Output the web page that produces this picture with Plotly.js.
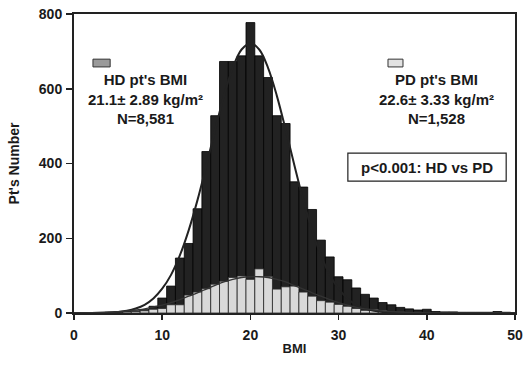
<!DOCTYPE html>
<html>
<head>
<meta charset="utf-8">
<script src="https://cdn.plot.ly/plotly-3.0.1.min.js"></script>
<style>html,body{margin:0;padding:0;background:#fff;}#chart{width:526px;height:367px;}</style>
</head>
<body>
<div id="chart"></div>
<script>
// BMI bins (width 1)
const bmi = [1,2,3,4,5,6,7,8,9,10,11,12,13,14,15,16,17,18,19,20,21,22,23,24,25,26,27,28,29,30,31,32,33,34,35,36,37,38,39,40,41,42,43,44,45,46,47,48,49];
// HD patients per BMI bin
const hdCounts = [0,1,1,2,3,4,6,9,18,40,72,147,186,279,432,528,673,673,688,777,688,630,528,507,351,337,277,195,150,97,89,67,50,40,28,22,15,11,8,10,4,3,3,2,2,2,2,4,2];
// PD patients per BMI bin
const pdCounts = [0,0,0,1,2,3,4,6,10,12,22,22,48,56,65,77,85,95,99,90,118,98,64,70,72,56,45,33,29,23,18,12,7,10,7,4,3,2,1,2,1,0,0,0,0,0,0,1,0];
// fitted curves
const curveX = [0,2,4,5,6,7,8,9,10,11,12,13,14,15,16,17,18,19,20,21,22,23,24,25,26,27,28,29,30,31,32,33,34,35,36,38,40,45,50];
const hdCurve = [0,0.3,1.5,3,6,12,22,39,65,102,154,221,302,394,490,581,656,705,722,705,656,581,490,394,302,221,154,102,65,39,22,12,6,3,1.5,0.3,0,0,0];
const pdCurve = [0.3,0.8,2.2,3.4,5.3,8,11,16,21,28,36,45,54,64,74,83,90,95,97,97,95,90,83,73,64,54,45,36,28,21,15,11,8,5,3.5,1.4,0.5,0,0];

const legendHD = ["HD pt's BMI", "21.1\u00b1 2.89 kg/m\u00b2", "N=8,581"];
const legendPD = ["PD pt's BMI", "22.6\u00b1 3.33 kg/m\u00b2", "N=1,528"];
const pText = "p<0.001: HD vs PD";

const FAM = "Liberation Sans, Arial, sans-serif";
const TXT = "#1a1a1a";

const traces = [
  {type: "bar", x: bmi, y: hdCounts, width: 1,
   marker: {color: "#222", line: {color: "#000", width: 0.8}}, hoverinfo: "none"},
  {type: "bar", x: bmi, y: pdCounts, width: 1,
   marker: {color: "#d9d9d9", line: {color: "#2a2a2a", width: 0.8}}, hoverinfo: "none"},
  {type: "scatter", mode: "lines", x: curveX, y: hdCurve,
   line: {color: "#222", width: 2, shape: "spline"}, hoverinfo: "none"},
  {type: "scatter", mode: "lines", x: curveX, y: pdCurve,
   line: {color: "#333", width: 1.3, shape: "spline"}, hoverinfo: "none"}
];

const layout = {
  width: 526, height: 367,
  margin: {l: 74, r: 11, t: 14, b: 54},
  paper_bgcolor: "#fff", plot_bgcolor: "#fff",
  showlegend: false,
  barmode: "overlay", bargap: 0,
  font: {family: FAM, color: TXT, weight: "bold"},
  xaxis: {range: [0, 50], dtick: 10, tick0: 0, ticks: "outside", ticklen: 5, tickwidth: 1.5,
          tickcolor: "#222", showline: true, mirror: true, linecolor: "#222", linewidth: 2,
          showgrid: false, zeroline: false, ticklabelstandoff: 3,
          tickfont: {family: FAM, size: 14, color: TXT, weight: "bold"},
          title: {text: "BMI", font: {family: FAM, size: 13, color: TXT, weight: "bold"}, standoff: 2}},
  yaxis: {range: [0, 800], dtick: 200, tick0: 0, ticks: "outside", ticklen: 6, tickwidth: 1.5,
          tickcolor: "#222", showline: true, mirror: true, linecolor: "#222", linewidth: 2,
          showgrid: false, zeroline: false, ticklabelstandoff: 1,
          tickfont: {family: FAM, size: 14, color: TXT, weight: "bold"},
          title: {text: "Pt's Number", font: {family: FAM, size: 14, color: TXT, weight: "bold"}, standoff: 16}},
  shapes: [
    {type: "rect", xref: "paper", yref: "paper", x0: 0.043, x1: 0.082, y0: 0.823, y1: 0.849,
     fillcolor: "#9a9a9a", line: {color: "#333", width: 1}},
    {type: "rect", xref: "paper", yref: "paper", x0: 0.712, x1: 0.746, y0: 0.823, y1: 0.849,
     fillcolor: "#e2e2e2", line: {color: "#333", width: 1}},
    {type: "rect", xref: "paper", yref: "paper", x0: 0.621, x1: 0.980, y0: 0.441, y1: 0.535,
     fillcolor: "rgba(0,0,0,0)", line: {color: "#222", width: 1.2}}
  ],
  annotations: [
    {xref: "paper", yref: "paper", x: 0.163, y: 0.716, xanchor: "center", yanchor: "middle",
     text: legendHD.join("<br>"), showarrow: false, align: "center",
     font: {family: FAM, size: 15, color: TXT, weight: "bold"}},
    {xref: "paper", yref: "paper", x: 0.823, y: 0.716, xanchor: "center", yanchor: "middle",
     text: legendPD.join("<br>"), showarrow: false, align: "center",
     font: {family: FAM, size: 15, color: TXT, weight: "bold"}},
    {xref: "paper", yref: "paper", x: 0.800, y: 0.488, xanchor: "center", yanchor: "middle",
     text: pText, showarrow: false,
     font: {family: FAM, size: 15, color: TXT, weight: "bold"}}
  ]
};

Plotly.newPlot("chart", traces, layout, {staticPlot: true, displayModeBar: false});
</script>
</body>
</html>
